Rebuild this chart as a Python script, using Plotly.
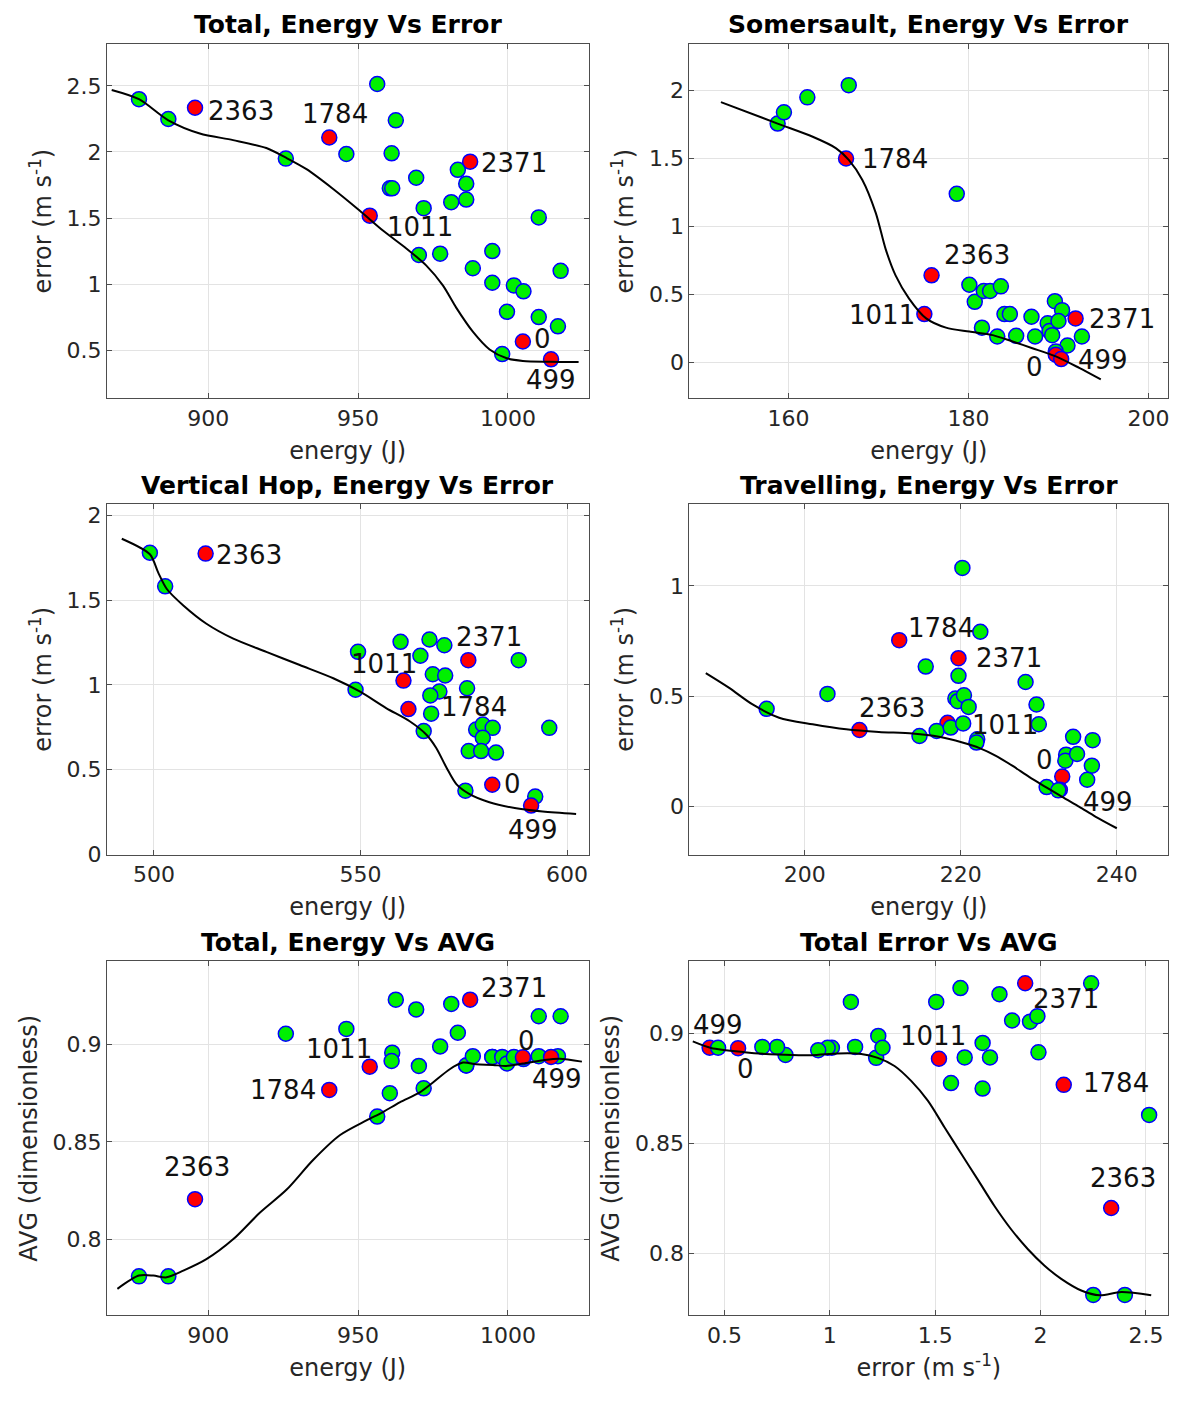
import plotly.graph_objects as go

# ---------------- DATA ----------------
label_ids = ["2363", "1784", "1011", "2371", "0", "499"]

# Total (shared by "Total, Energy Vs Error", "Total, Energy Vs AVG", "Total Error Vs AVG")
total_energy = [876.9, 886.7, 925.9, 946.1, 956.4, 960.6, 961.4, 961.2, 962.6, 969.4,
                970.3, 971.9, 977.4, 981.1, 983.3, 986.1, 986.1, 988.3, 994.8, 994.8,
                998.1, 999.7, 1002.0, 1005.2, 1010.3, 1010.3, 1016.7, 1017.6]
total_error = [2.40, 2.25, 1.95, 1.985, 2.515, 1.725, 1.725, 1.99, 2.24, 1.805,
               1.22, 1.575, 1.23, 1.62, 1.865, 1.64, 1.76, 1.12, 1.01, 1.25,
               0.47, 0.79, 0.99, 0.945, 1.505, 0.75, 0.68, 1.10]
total_avg = [0.781, 0.781, 0.9055, 0.908, 0.863, 0.875, 0.8958, 0.8915, 0.923, 0.918,
             0.889, 0.8775, 0.899, 0.9208, 0.906, 0.8892, 0.8892, 0.894, 0.8936, 0.8936,
             0.8936, 0.8903, 0.8936, 0.8925, 0.9145, 0.894, 0.894, 0.9145]
red_total_energy = [895.6, 940.4, 953.9, 987.4, 1005.0, 1014.4]
red_total_error = [2.335, 2.11, 1.518, 1.927, 0.565, 0.43]
red_total_avg = [0.8206, 0.8767, 0.8886, 0.923, 0.8934, 0.8936]

# Somersault
som_energy = [158.8, 159.5, 162.1, 166.7, 178.7, 180.1, 180.7, 181.7, 182.4, 183.6,
              181.5, 183.2, 184.0, 184.6, 185.3, 187.0, 187.4, 188.8, 189.0, 189.3,
              189.6, 190.4, 190.0, 191.0, 192.6, 189.7]
som_error = [1.757, 1.84, 1.95, 2.04, 1.24, 0.571, 0.445, 0.525, 0.525, 0.559,
             0.255, 0.19, 0.355, 0.355, 0.195, 0.335, 0.19, 0.287, 0.23, 0.20,
             0.45, 0.384, 0.304, 0.124, 0.19, 0.08]
red_som_energy = [175.9, 166.4, 175.1, 191.9, 189.7, 190.3]
red_som_error = [0.64, 1.50, 0.355, 0.323, 0.056, 0.024]

# Vertical hop
hop_energy = [499.0, 502.7, 549.4, 548.8, 559.7, 564.5, 566.7, 570.3, 567.5, 570.5,
              569.1, 566.9, 567.1, 565.3, 575.8, 588.3, 578.0, 579.6, 582.0, 579.6,
              576.2, 579.2, 582.8, 575.4, 592.3, 595.7]
hop_error = [1.78, 1.582, 1.195, 0.971, 1.254, 1.172, 1.268, 1.234, 1.0625, 1.055,
             0.961, 0.9375, 0.83, 0.727, 0.98, 1.146, 0.736, 0.766, 0.746, 0.688,
             0.609, 0.609, 0.60, 0.375, 0.34, 0.746]
red_hop_energy = [512.5, 561.6, 560.4, 576.1, 581.9, 591.3]
red_hop_error = [1.775, 0.857, 1.025, 1.146, 0.41, 0.287]

# Travelling
trav_energy = [195.1, 202.9, 214.7, 215.5, 216.9, 218.7, 219.7, 219.3, 219.6, 220.4,
               221.0, 220.3, 220.2, 222.1, 222.0, 222.5, 228.3, 229.7, 230.0, 231.0,
               232.5, 233.5, 233.4, 234.4, 234.9, 236.9, 236.8, 236.2]
trav_error = [0.442, 0.51, 0.319, 0.634, 0.342, 0.357, 0.592, 0.489, 0.477, 0.504,
              0.451, 0.376, 1.082, 0.304, 0.289, 0.792, 0.564, 0.462, 0.372, 0.087,
              0.072, 0.234, 0.207, 0.315, 0.237, 0.30, 0.184, 0.12]
red_trav_energy = [207.0, 212.1, 218.3, 219.7, 233.0, 232.7]
red_trav_error = [0.346, 0.754, 0.379, 0.672, 0.135, 0.075]

# Fitted curves
fit1_x = [867.8, 876.9, 886.7, 897.2, 908.3, 919.4, 926.1, 932.8, 941.7, 950.6, 958.3,
          966.1, 972.8, 978.3, 982.8, 988.3, 993.9, 999.4, 1005.0, 1013.9, 1023.6]
fit1_y = [2.47, 2.40, 2.24, 2.14, 2.09, 2.03, 1.955, 1.87, 1.72, 1.555, 1.405,
          1.27, 1.14, 0.99, 0.82, 0.64, 0.505, 0.44, 0.418, 0.412, 0.41]
fit2_x = [152.5, 158.8, 162.7, 165.3, 166.7, 168.2, 169.7, 170.8, 171.9, 173.4, 175.3,
          177.5, 180.1, 182.7, 184.9, 187.1, 189.7, 192.3, 194.7]
fit2_y = [1.915, 1.757, 1.66, 1.575, 1.49, 1.344, 1.10, 0.833, 0.64, 0.469, 0.323,
          0.255, 0.226, 0.20, 0.153, 0.104, 0.044, -0.041, -0.126]
fit3_x = [492.2, 499.0, 501.0, 503.1, 507.1, 512.7, 519.2, 527.2, 535.3, 543.4, 549.8,
          556.2, 561.9, 565.9, 568.3, 570.8, 573.2, 576.4, 581.2, 587.7, 594.1, 602.2]
fit3_y = [1.863, 1.771, 1.664, 1.566, 1.469, 1.361, 1.273, 1.195, 1.117, 1.039, 0.961,
          0.863, 0.785, 0.707, 0.629, 0.512, 0.414, 0.355, 0.307, 0.271, 0.252, 0.238]
fit4_x = [187.3, 190.3, 193.3, 196.7, 201.0, 205.3, 209.5, 213.8, 217.2, 220.2, 222.4,
          224.5, 226.6, 228.8, 230.9, 233.0, 235.2, 237.3, 240.0]
fit4_y = [0.604, 0.537, 0.462, 0.402, 0.372, 0.349, 0.337, 0.330, 0.315, 0.289, 0.264,
          0.229, 0.184, 0.132, 0.087, 0.042, -0.003, -0.048, -0.10]
fit5_x = [869.7, 876.9, 881.7, 886.1, 891.7, 899.4, 908.3, 917.2, 926.1, 935.0, 943.9,
          952.8, 958.3, 963.9, 970.6, 975.0, 980.6, 985.0, 989.4, 995.0, 999.4, 1005.0,
          1011.7, 1017.2, 1024.7]
fit5_y = [0.7746, 0.7814, 0.7814, 0.7805, 0.7839, 0.7898, 0.800, 0.8136, 0.8254, 0.8407,
          0.8534, 0.861, 0.8653, 0.8703, 0.8754, 0.8805, 0.8873, 0.8907, 0.8898, 0.8895,
          0.889, 0.8902, 0.8919, 0.8927, 0.8912]
fit6_x = [0.35, 0.437, 0.595, 0.753, 0.911, 1.038, 1.149, 1.228, 1.307, 1.386, 1.465,
          1.544, 1.623, 1.703, 1.782, 1.861, 1.94, 2.019, 2.098, 2.193, 2.28, 2.383, 2.525]
fit6_y = [0.8965, 0.8935, 0.8916, 0.8905, 0.8902, 0.891, 0.8908, 0.889, 0.8853, 0.8785,
          0.8695, 0.8574, 0.8454, 0.8334, 0.8214, 0.8108, 0.8018, 0.7943, 0.7883, 0.783,
          0.7808, 0.7823, 0.7808]

titles = ["Total, Energy Vs Error", "Somersault, Energy Vs Error",
          "Vertical Hop, Energy Vs Error", "Travelling, Energy Vs Error",
          "Total, Energy Vs AVG", "Total Error Vs AVG"]

# ---------------- STYLE / LAYOUT ----------------
FONT = "DejaVu Sans"
GREEN = "#00f000"
RED = "#ff0000"
EDGE = "#0000ff"
TXT = "#262626"

# page has an 8px body margin; figure sized to fit the 1179x1401 window
PAGE_M = 8
W, H = 1179 - 2 * PAGE_M, 1401 - 2 * PAGE_M

def xdom(a, b):
    return [(a - PAGE_M) / W, (b - PAGE_M) / W]

def ydom(top, bottom):
    return [1 - (bottom - PAGE_M) / H, 1 - (top - PAGE_M) / H]

col_dom = [xdom(107, 589), xdom(690, 1169.3)]
row_dom = [ydom(43.3, 401), ydom(507.7, 861.7), ydom(969.3, 1326.7)]

panels = [
    dict(gx=total_energy, gy=total_error, rx=red_total_energy, ry=red_total_error,
         fx=fit1_x, fy=fit1_y, xr=[866.2, 1026.9], yr=[0.135, 2.818], dx=50, dy=0.5,
         xt="energy (J)", yt="error (m s<sup>-1</sup>)", red_top=True,
         off=[(46, 3), (6, -23), (50, 11), (44, 1), (20, -3), (0, 21)]),
    dict(gx=som_energy, gy=som_error, rx=red_som_energy, ry=red_som_error,
         fx=fit2_x, fy=fit2_y, xr=[149.0, 202.2], yr=[-0.265, 2.343], dx=20, dy=0.5,
         xt="energy (J)", yt="error (m s<sup>-1</sup>)", red_top=True,
         off=[(45, -20), (49, 0), (-42, 1), (46, 1), (-21, 12), (42, 1)]),
    dict(gx=hop_energy, gy=hop_error, rx=red_hop_energy, ry=red_hop_error,
         fx=fit3_x, fy=fit3_y, xr=[488.6, 605.2], yr=[-0.003, 2.068], dx=50, dy=0.5,
         xt="energy (J)", yt="error (m s<sup>-1</sup>)", red_top=True,
         off=[(43, 1), (66, -2), (-19, -17), (21, -23), (20, -1), (2, 24)]),
    dict(gx=trav_energy, gy=trav_error, rx=red_trav_energy, ry=red_trav_error,
         fx=fit4_x, fy=fit4_y, xr=[185.2, 246.6], yr=[-0.22, 1.372], dx=20, dy=0.5,
         xt="energy (J)", yt="error (m s<sup>-1</sup>)", red_top=False,
         off=[(33, -22), (42, -12), (57, 2), (51, 0), (-18, -16), (48, 12)]),
    dict(gx=total_energy, gy=total_avg, rx=red_total_energy, ry=red_total_avg,
         fx=fit5_x, fy=fit5_y, xr=[866.2, 1026.9], yr=[0.761, 0.9427], dx=50, dy=0.05,
         xt="energy (J)", yt="AVG (dimensionless)", red_top=True,
         off=[(2, -32), (-46, 0), (-31, -18), (44, -12), (4, -16), (6, 22)]),
    dict(gx=total_error, gy=total_avg, rx=red_total_error, ry=red_total_avg,
         fx=fit6_x, fy=fit6_y, xr=[0.334, 2.606], yr=[0.7717, 0.933], dx=0.5, dy=0.05,
         xt="error (m s<sup>-1</sup>)", yt="AVG (dimensionless)", red_top=False,
         off=[(12, -30), (52, -2), (-6, -23), (41, 16), (7, 21), (8, -23)]),
]

fig = go.Figure()
annotations = []
layout = {}

def marker(color):
    return dict(size=15, color=color, line=dict(color=EDGE, width=1.5))

for i, p in enumerate(panels):
    n = i + 1
    r, c = divmod(i, 2)
    xa = "x" if n == 1 else f"x{n}"
    ya = "y" if n == 1 else f"y{n}"
    green = go.Scatter(x=p["gx"], y=p["gy"], mode="markers", marker=marker(GREEN),
                       xaxis=xa, yaxis=ya, showlegend=False, hoverinfo="skip")
    red = go.Scatter(x=p["rx"], y=p["ry"], mode="markers", marker=marker(RED),
                     xaxis=xa, yaxis=ya, showlegend=False, hoverinfo="skip")
    if p["red_top"]:
        fig.add_trace(green)
        fig.add_trace(red)
    else:
        fig.add_trace(red)
        fig.add_trace(green)
    fig.add_trace(go.Scatter(x=p["fx"], y=p["fy"], mode="lines",
                             line=dict(color="black", width=2, shape="spline", smoothing=0.8),
                             xaxis=xa, yaxis=ya, showlegend=False, hoverinfo="skip"))
    axis_common = dict(showgrid=True, gridcolor="#e3e3e3", gridwidth=1, zeroline=False,
                       showline=True, linecolor="#4d4d4d", linewidth=1, mirror="allticks",
                       ticks="inside", ticklen=5, tickcolor="#4d4d4d",
                       tickfont=dict(family=FONT, size=22, color=TXT))
    xkey = "xaxis" if n == 1 else f"xaxis{n}"
    ykey = "yaxis" if n == 1 else f"yaxis{n}"
    layout[xkey] = dict(axis_common, domain=col_dom[c], anchor=ya, range=p["xr"],
                        dtick=p["dx"], tick0=0,
                        title=dict(text=p["xt"], font=dict(family=FONT, size=24, color=TXT),
                                   standoff=12))
    layout[ykey] = dict(axis_common, domain=row_dom[r], anchor=xa, range=p["yr"],
                        dtick=p["dy"], tick0=0,
                        title=dict(text=p["yt"], font=dict(family=FONT, size=24, color=TXT),
                                   standoff=8))
    # title
    annotations.append(dict(text="<b>" + titles[i] + "</b>", xref="paper", yref="paper",
                            x=(col_dom[c][0] + col_dom[c][1]) / 2, y=row_dom[r][1],
                            yshift=19, xanchor="center", yanchor="middle", showarrow=False,
                            font=dict(family=FONT, size=25, color="black")))
    # point labels
    for k, lab in enumerate(label_ids):
        ox, oy = p["off"][k]
        annotations.append(dict(text=lab, x=p["rx"][k], y=p["ry"][k], xref=xa, yref=ya,
                                xshift=ox, yshift=-oy, xanchor="center", yanchor="middle",
                                showarrow=False,
                                font=dict(family=FONT, size=26, color="#111111")))

fig.update_layout(**layout)
fig.update_layout(width=W, height=H, margin=dict(l=0, r=0, t=0, b=0),
                  paper_bgcolor="white", plot_bgcolor="white", annotations=annotations,
                  font=dict(family=FONT))
fig.write_html("out.html")
